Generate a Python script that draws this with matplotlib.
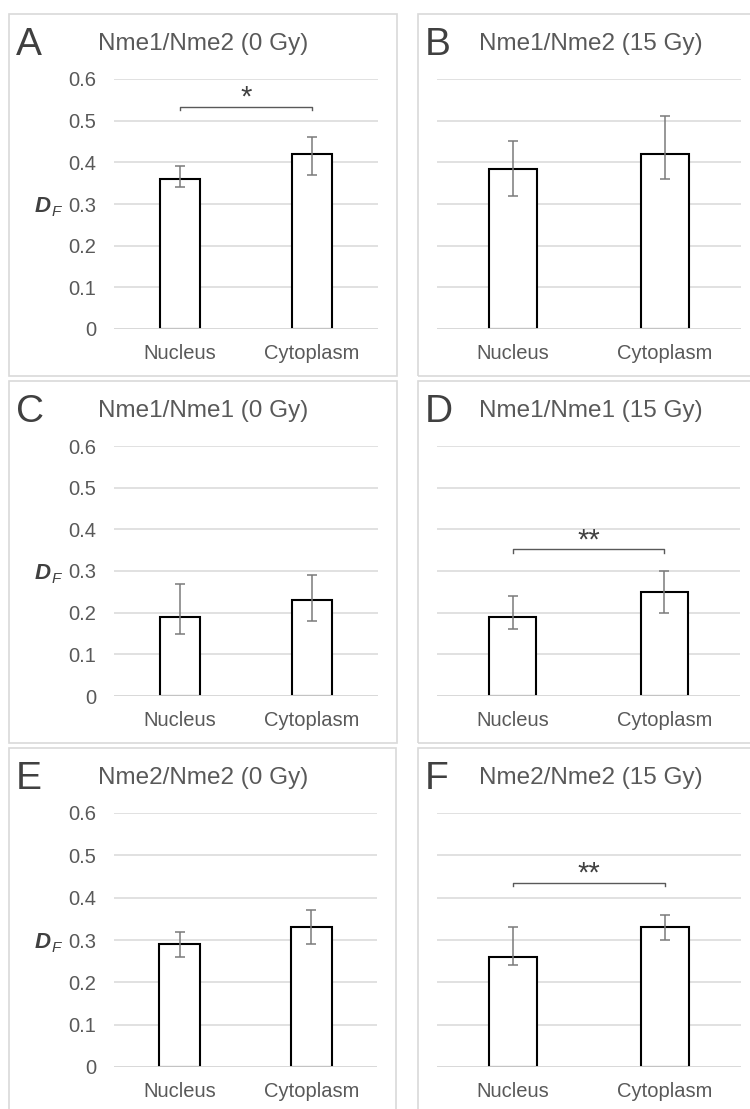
import matplotlib
matplotlib.use("Agg")
import matplotlib.pyplot as plt
from matplotlib.patches import Rectangle

plt.rcParams['font.family'] = ['Liberation Sans', 'DejaVu Sans']

# ---------------- data ----------------
categories = ["Nucleus", "Cytoplasm"]
panel_letters = ["A", "B", "C", "D", "E", "F"]
panel_titles = ["Nme1/Nme2 (0 Gy)", "Nme1/Nme2 (15 Gy)",
                "Nme1/Nme1 (0 Gy)", "Nme1/Nme1 (15 Gy)",
                "Nme2/Nme2 (0 Gy)", "Nme2/Nme2 (15 Gy)"]
means = [[0.36, 0.42], [0.383, 0.42],
         [0.19, 0.23], [0.19, 0.25],
         [0.29, 0.33], [0.26, 0.33]]
err_low = [[0.34, 0.37], [0.32, 0.36],
           [0.15, 0.18], [0.16, 0.20],
           [0.26, 0.29], [0.24, 0.30]]
err_high = [[0.39, 0.46], [0.45, 0.51],
            [0.27, 0.29], [0.24, 0.30],
            [0.32, 0.37], [0.33, 0.36]]
sig_labels = ["*", None, None, "**", None, "**"]
sig_levels = [0.533, None, None, 0.352, None, 0.435]
yticks = [0, 0.1, 0.2, 0.3, 0.4, 0.5, 0.6]
ytick_labels = ["0", "0.1", "0.2", "0.3", "0.4", "0.5", "0.6"]

# ---------------- layout ----------------
W, H = 750, 1109
fig = plt.figure(figsize=(W / 100, H / 100), dpi=100)

def fx(x):
    return x / W

def fy(y):
    return 1 - y / H

frames = [(9, 14, 397, 376), (418, 14, 762, 376),
          (9, 381, 397, 743), (418, 381, 762, 743),
          (9, 748, 396, 1115), (418, 748, 762, 1115)]
axes_px = [(114, 79, 378, 329), (437, 79, 741, 329),
           (114, 446, 378, 696), (437, 446, 740, 696),
           (114, 813, 377, 1067), (437, 813, 741, 1067)]

GRID = '#d9d9d9'
TXT = '#595959'
ERR = '#7a7a7a'

for i in range(6):
    x0, y0, x1, y1 = frames[i]
    fig.add_artist(Rectangle((fx(x0), fy(y1)), fx(x1) - fx(x0), fy(y0) - fy(y1),
                             transform=fig.transFigure, fill=False,
                             edgecolor=GRID, linewidth=1.2))
    ax0, ay0, ax1, ay1 = axes_px[i]
    ax = fig.add_axes([fx(ax0), fy(ay1), fx(ax1) - fx(ax0), fy(ay0) - fy(ay1)])
    ax.set_facecolor('none')
    for s in ax.spines.values():
        s.set_visible(False)
    ax.set_xlim(-0.5, 1.5)
    ax.set_ylim(0, 0.6)
    ax.set_yticks(yticks)
    ax.yaxis.grid(True, color=GRID, linewidth=1.1)
    ax.set_axisbelow(True)
    ax.tick_params(length=0)
    left_col = (i % 2 == 0)
    if left_col:
        ax.set_yticklabels(ytick_labels, fontsize=14.5, color=TXT)
        ax.tick_params(axis='y', pad=13)
    else:
        ax.set_yticklabels([])
    xs = list(range(len(categories)))
    ax.set_xticks(xs)
    ax.set_xticklabels(categories, fontsize=14.5, color=TXT)
    ax.tick_params(axis='x', pad=11)

    m = means[i]
    yerr = [[m[j] - err_low[i][j] for j in xs], [err_high[i][j] - m[j] for j in xs]]
    ax.bar(xs, m, width=0.31, color='white', edgecolor='black', linewidth=1.5, zorder=2)
    ax.errorbar(xs, m, yerr=yerr, fmt='none', ecolor=ERR, elinewidth=1.1,
                capsize=3.5, capthick=1.1, zorder=4)
    ax.axhline(0, color=GRID, linewidth=1.3, zorder=3)

    if sig_labels[i]:
        lvl = sig_levels[i]
        ax.plot([0, 0, 1, 1], [lvl - 0.008, lvl, lvl, lvl - 0.008],
                color=TXT, linewidth=1.0, zorder=4, clip_on=False)
        ax.text(0.5, lvl - 0.012, sig_labels[i], ha='center', va='bottom',
                fontsize=21, color='#404040')

    # title centred on frame
    fig.text(fx((x0 + x1) / 2 + 0.5), fy(y0 + 30), panel_titles[i], ha='center',
             va='center', fontsize=17.5, color=TXT)
    # panel letter
    fig.text(fx(x0 + 7), fy(y0 + 41), panel_letters[i], ha='left', va='baseline',
             fontsize=28, color='#404040')

    if left_col:
        yc = ay1 - (ay1 - ay0) * 0.5
        fig.text(fx(35), fy(yc + 8), "D", ha='left', va='baseline', fontsize=16,
                 fontweight='bold', fontstyle='italic', color='#404040')
        fig.text(fx(51.5), fy(yc + 12), "F", ha='left', va='baseline', fontsize=11,
                 fontstyle='italic', color='#404040')

fig.savefig("out.png", dpi=100, facecolor='white')
